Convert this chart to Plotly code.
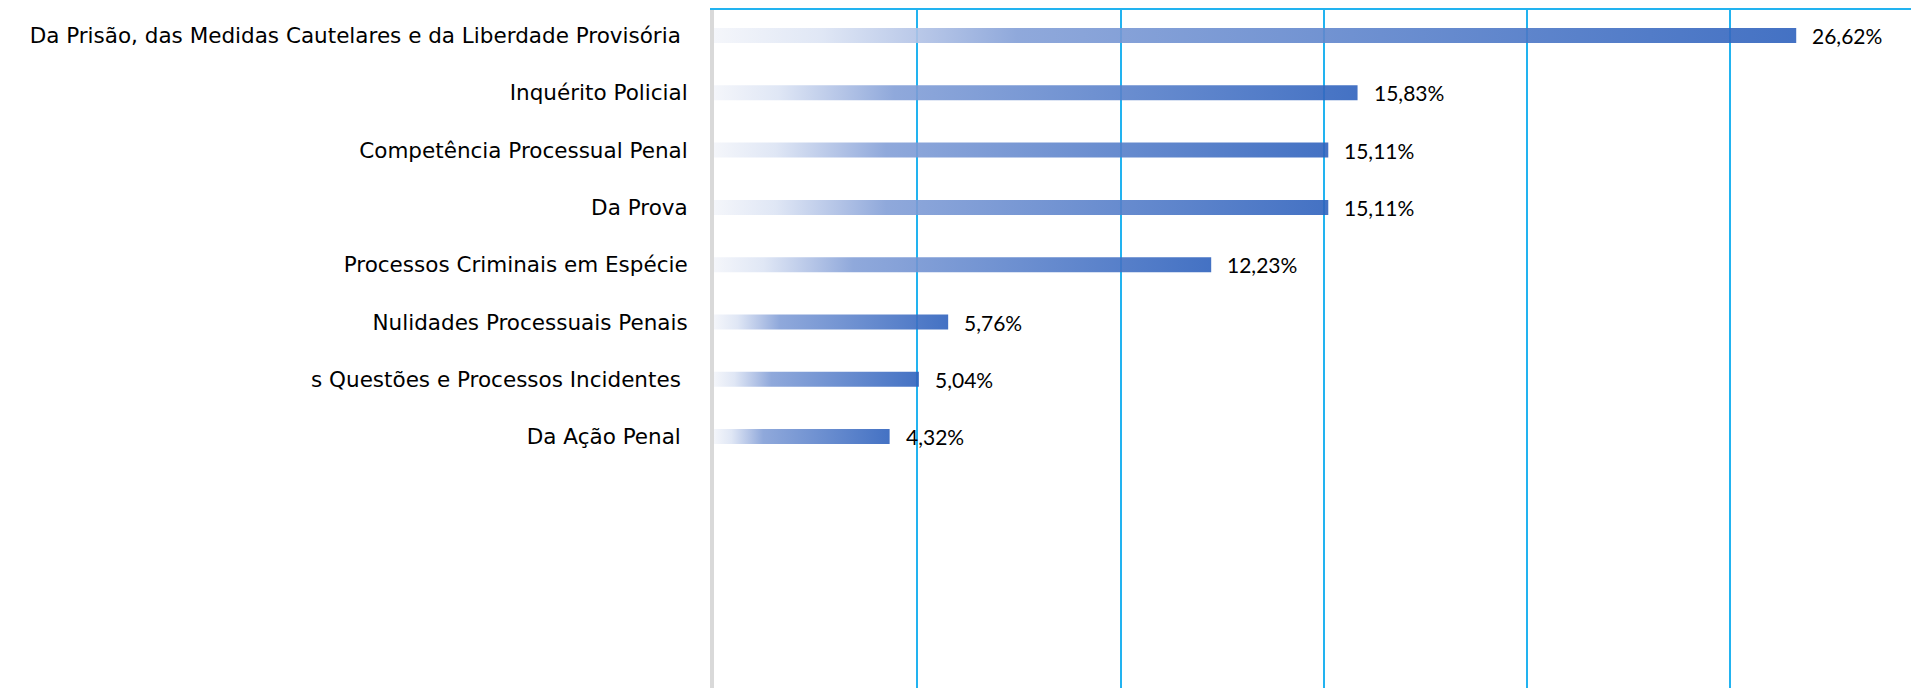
import plotly.graph_objects as go

categories = [
    "Da Prisão, das Medidas Cautelares e da Liberdade Provisória\u00a0",
    "Inquérito Policial",
    "Competência Processual Penal",
    "Da Prova",
    "Processos Criminais em Espécie",
    "Nulidades Processuais Penais",
    "s Questões e Processos Incidentes\u00a0",
    "Da Ação Penal\u00a0",
]
values = [26.62, 15.83, 15.11, 15.11, 12.23, 5.76, 5.04, 4.32]
value_labels = ["26,62%", "15,83%", "15,11%", "15,11%", "12,23%", "5,76%", "5,04%", "4,32%"]
grid_ticks = [0, 5, 10, 15, 20, 25]

LABEL_FONT = "DejaVu Sans"
VALUE_FONT = "Lato"
HALF = 0.131
gradient = [
    [0.0, "rgba(243,245,250,0.9)"],
    [0.1, "rgba(220,228,244,0.9)"],
    [0.2, "rgba(172,190,228,0.9)"],
    [0.28, "rgba(131,159,215,0.9)"],
    [1.0, "rgba(47,98,189,0.9)"],
]

fig = go.Figure()
for i, v in enumerate(values):
    fig.add_trace(go.Scatter(
        x=[0, v, v, 0, 0],
        y=[i - HALF, i - HALF, i + HALF, i + HALF, i - HALF],
        mode="lines",
        line=dict(width=0),
        fill="toself",
        fillgradient=dict(type="horizontal", colorscale=gradient),
        hoverinfo="skip",
        showlegend=False,
    ))

for i, (v, t) in enumerate(zip(values, value_labels)):
    fig.add_annotation(x=v, y=i, text=t, showarrow=False, xanchor="left", yanchor="middle",
                       xshift=14, font=dict(family=VALUE_FONT, size=21, color="#000000"))

fig.update_layout(
    width=1911, height=680,
    margin=dict(l=706, r=0, t=2, b=0),
    paper_bgcolor="white", plot_bgcolor="white",
    showlegend=False,
    font=dict(family=LABEL_FONT, size=21, color="#000000"),
)
fig.update_xaxes(
    range=[0, 29.64], side="top",
    tickvals=grid_ticks, showticklabels=False, ticks="",
    showgrid=True, gridcolor="#22b3f0", gridwidth=2,
    showline=True, linecolor="#22b3f0", linewidth=2,
    zeroline=False,
)
fig.update_yaxes(
    range=[11.387, -0.445],
    tickvals=list(range(len(categories))), ticktext=categories,
    showgrid=False, zeroline=False,
    showline=True, linecolor="#d9d9d9", linewidth=4,
    ticks="", ticklabelstandoff=18,
    tickfont=dict(family=LABEL_FONT, size=21.5, color="#000000"),
)

fig.write_html("out.html")
